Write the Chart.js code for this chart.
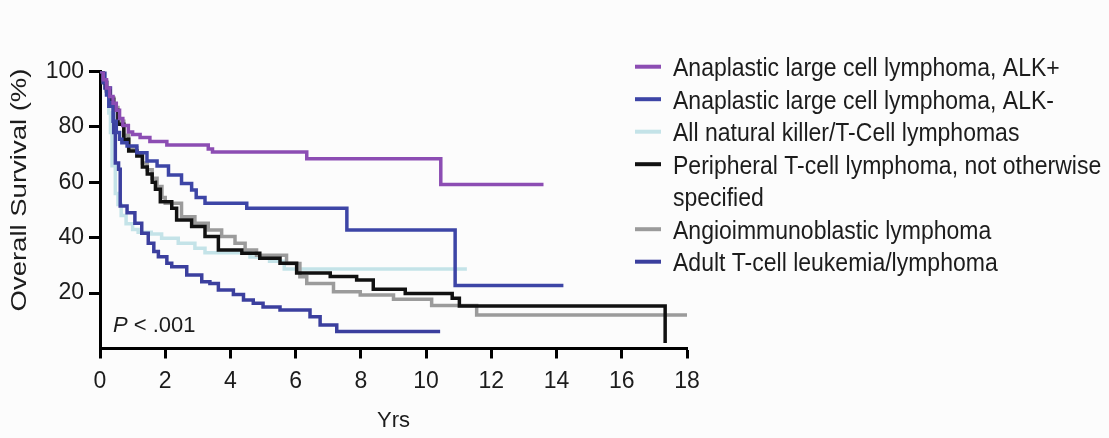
<!DOCTYPE html>
<html>
<head>
<meta charset="utf-8">
<script src="https://cdn.jsdelivr.net/npm/chart.js@4.4.1/dist/chart.umd.min.js"></script>
<style>
html, body { margin: 0; padding: 0; background: #fcfcfc; }
#wrap { width: 1109px; height: 438px; }
</style>
</head>
<body>
<div id="wrap"><canvas id="chart" width="1109" height="438"></canvas></div>
<script>
// Kaplan-Meier steps: years and overall survival (%)
var alkPosYears = [0, 0.1, 0.2, 0.3, 0.4, 0.5, 0.6, 0.7, 0.87, 1.0, 1.23, 1.53, 2.05, 3.32, 3.45, 6.34, 10.45, 13.6];
var alkPosSurv  = [100, 97, 94, 91, 88.5, 86, 83, 80.5, 78.2, 77.3, 76.2, 74.7, 73.5, 72, 70.9, 68.5, 59.2, 59.2];

var alkNegYears = [0, 0.1, 0.2, 0.27, 0.4, 0.5, 0.6, 0.67, 0.83, 1.13, 1.44, 1.75, 2.1, 2.5, 2.81, 2.95, 3.22, 4.5, 7.57, 10.89, 14.21];
var alkNegSurv  = [100, 96, 91.5, 87.5, 82, 78, 75.5, 74.3, 73.1, 70.7, 67.7, 65.9, 62.6, 59.6, 57.2, 54.5, 52.4, 50.6, 42.8, 22.7, 22.7];

var nktYears = [0, 0.1, 0.2, 0.27, 0.32, 0.37, 0.47, 0.55, 0.65, 0.8, 1.0, 1.17, 1.57, 1.89, 2.4, 2.91, 3.22, 4.6, 5.2, 5.65, 11.25];
var nktSurv  = [100, 96, 92, 85, 78, 66, 56, 52, 48, 45, 43, 42, 41.3, 39.8, 38, 36.2, 34.6, 33, 31.5, 28.7, 28.7];

var ptclYears = [0, 0.1, 0.2, 0.3, 0.42, 0.55, 0.73, 0.88, 1.13, 1.3, 1.45, 1.6, 1.7, 1.85, 2.2, 2.35, 2.81, 3.22, 3.63, 4.35, 4.9, 5.52, 6.03, 7.06, 7.87, 8.38, 9.36, 10.8, 11.02, 17.33];
var ptclSurv  = [100, 96, 93, 90, 86, 81, 75.5, 71.3, 69.5, 65.5, 63, 60, 57.5, 53, 50.6, 46.4, 44, 40.4, 35.6, 34.4, 32.6, 30.8, 27.3, 26, 24.7, 21.4, 19.9, 18.1, 15.3, 2];

var aitlYears = [0, 0.1, 0.2, 0.3, 0.42, 0.55, 0.73, 0.88, 1.13, 1.3, 1.45, 1.6, 1.75, 1.9, 2.0, 2.5, 2.91, 3.32, 3.73, 4.14, 4.45, 4.8, 5.72, 6.13, 6.34, 7.16, 7.98, 9.0, 10.17, 11.55, 18.05];
var aitlSurv  = [100, 96.5, 93.5, 90.5, 87, 82, 77, 72.5, 70.5, 67, 64.5, 61.5, 58.5, 54.5, 52.4, 47.6, 45.2, 42.8, 40.4, 38, 35.6, 33.7, 30.7, 25.9, 23.5, 20.5, 19.3, 17.8, 15.5, 12.1, 12.1];

var atllYears = [0, 0.15, 0.32, 0.42, 0.47, 0.57, 0.62, 0.83, 1.07, 1.28, 1.48, 1.65, 1.79, 2.05, 2.2, 2.66, 3.12, 3.37, 3.63, 4.09, 4.4, 4.7, 5.0, 5.52, 6.44, 6.75, 7.26, 10.43];
var atllSurv  = [100, 94, 87.5, 78, 67, 64.7, 51.4, 49, 45.2, 41.6, 38, 35, 33.1, 30.8, 29.5, 26.5, 24.1, 23.5, 21.1, 19.5, 17.5, 16.3, 15, 13.9, 11.5, 8.5, 6.1, 6.1];

var seriesNames = [
    'Anaplastic large cell lymphoma, ALK+',
    'Anaplastic large cell lymphoma, ALK-',
    'All natural killer/T-Cell lymphomas',
    'Peripheral T-cell lymphoma, not otherwise\nspecified',
    'Angioimmunoblastic lymphoma',
    'Adult T-cell leukemia/lymphoma'
];
var seriesColors = ['#8c4db3', '#3d45a6', '#c4e3e8', '#111111', '#9b9b9b', '#3b3f9e'];

var xTicks = [0, 2, 4, 6, 8, 10, 12, 14, 16, 18];
var yTicks = [20, 40, 60, 80, 100];

var FONT = "'Liberation Sans', Arial, sans-serif";
var TEXT = '#1c1c1c';

function toPoints(xs, ys) {
    var pts = [];
    for (var i = 0; i < xs.length; i++) {
        pts.push({ x: xs[i], y: ys[i] });
    }
    return pts;
}

var allYears = [alkPosYears, alkNegYears, nktYears, ptclYears, aitlYears, atllYears];
var allSurv = [alkPosSurv, alkNegSurv, nktSurv, ptclSurv, aitlSurv, atllSurv];
var drawOrder = [0, 0, 10, 0, 9, 0];   // light cyan and gray go underneath

var datasets = [];
for (var i = 0; i < seriesNames.length; i++) {
    datasets.push({
        label: seriesNames[i].replace('\n', ' '),
        data: toPoints(allYears[i], allSurv[i]),
        borderColor: seriesColors[i],
        backgroundColor: seriesColors[i],
        borderWidth: 3.5,
        pointRadius: 0,
        stepped: 'before',   // flat until the event, then drop
        fill: false,
        order: drawOrder[i]
    });
}

// legend, y title and P value are painted by hand so they can sit where the figure has them
var extras = {
    id: 'extras',
    afterDraw: function (chart) {
        var ctx = chart.ctx;
        var area = chart.chartArea;
        ctx.save();
        ctx.fillStyle = TEXT;

        // y axis title
        ctx.save();
        ctx.font = '22px ' + FONT;
        ctx.translate(20, 190);
        ctx.rotate(-Math.PI / 2);
        ctx.scale(1.25, 1);
        ctx.textAlign = 'center';
        ctx.textBaseline = 'middle';
        ctx.fillText('Overall Survival (%)', 0, 0);
        ctx.restore();

        // P value
        ctx.font = 'italic 22px ' + FONT;
        ctx.textBaseline = 'alphabetic';
        ctx.textAlign = 'left';
        var px = area.left + 13, py = 331.5;
        ctx.fillText('P', px, py);
        var pw = ctx.measureText('P').width;
        ctx.font = '22px ' + FONT;
        ctx.fillText(' < .001', px + pw, py);

        // legend
        var lx = area.right - 52;
        var rowY = 66.7;
        var step = 32.5;
        ctx.font = '23px ' + FONT;
        for (var i = 0; i < seriesNames.length; i++) {
            var lines = seriesNames[i].split('\n');
            ctx.strokeStyle = seriesColors[i];
            ctx.lineWidth = 4;
            ctx.beginPath();
            ctx.moveTo(lx, rowY);
            ctx.lineTo(lx + 26, rowY);
            ctx.stroke();
            for (var j = 0; j < lines.length; j++) {
                ctx.save();
                ctx.translate(lx + 38, rowY + 9.3);
                ctx.scale(1, 1.13);
                ctx.fillText(lines[j], 0, 0);
                ctx.restore();
                rowY += step;
            }
        }
        ctx.restore();
    }
};

var chart = new Chart(document.getElementById('chart'), {
    type: 'line',
    data: { datasets: datasets },
    options: {
        responsive: false,
        animation: false,
        events: [],
        layout: { padding: { top: 71.5, right: 422, bottom: 0, left: 0 } },
        plugins: {
            legend: { display: false },
            tooltip: { enabled: false }
        },
        scales: {
            x: {
                type: 'linear',
                min: 0,
                max: 18,
                afterBuildTicks: function (scale) {
                    scale.ticks = xTicks.map(function (v) { return { value: v }; });
                },
                afterFit: function (scale) { scale.height = 89.5; },
                border: { display: true, color: '#000', width: 3 },
                grid: { drawOnChartArea: false, drawTicks: true, tickLength: 10, tickWidth: 3, tickColor: '#000' },
                ticks: { color: TEXT, font: { family: FONT, size: 23 }, padding: 9, maxRotation: 0 },
                title: { display: true, text: 'Yrs', color: TEXT, font: { family: FONT, size: 22 }, padding: { top: 0, bottom: 4 } }
            },
            y: {
                type: 'linear',
                min: 0,
                max: 100,
                afterBuildTicks: function (scale) {
                    scale.ticks = yTicks.map(function (v) { return { value: v }; });
                },
                afterFit: function (scale) { scale.width = 100; },
                border: { display: true, color: '#000', width: 3 },
                grid: { drawOnChartArea: false, drawTicks: true, tickLength: 11, tickWidth: 3, tickColor: '#000' },
                ticks: { color: TEXT, font: { family: FONT, size: 23 }, padding: 5 }
            }
        }
    },
    plugins: [extras]
});
</script>
</body>
</html>
